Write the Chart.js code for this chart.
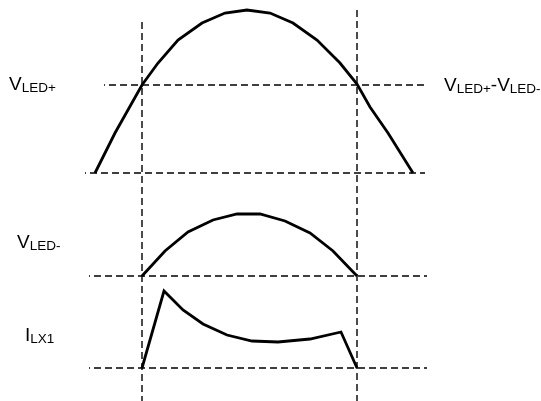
<!DOCTYPE html>
<html>
<head>
<meta charset="utf-8">
<script src="https://cdn.jsdelivr.net/npm/chart.js@4/dist/chart.umd.min.js"></script>
<style>
  html, body { margin: 0; padding: 0; background: #ffffff; }
  #wrap { width: 541px; height: 401px; position: relative; }
</style>
</head>
<body>
<div id="wrap"><canvas id="c" width="541" height="401"></canvas></div>
<script>
// ---- Data (time axis and levels; y is "up") ----
const timeVledPlus = [95, 115, 142, 158, 178, 202, 225, 247, 270, 293, 317, 340, 357, 370, 388, 413];
const vledPlus     = [0, 40, 88, 110, 133, 150, 160, 163, 160, 150, 133, 110, 89, 66, 40, 0];

const timeVledMinus = [142, 165, 188, 213, 237, 260, 285, 310, 333, 357];
const vledMinus     = [0, 25, 44, 56, 62, 62, 55, 43, 25, 0];

const timeIlx1 = [142, 164, 183, 203, 227, 252, 278, 310, 341, 357];
const ilx1     = [0, 77, 58, 44, 33, 27, 26, 29, 36, 0];

// baselines of the three traces and the VLED+ threshold level
const baseVledPlus = 228;
const levelThreshold = 88;   // above baseVledPlus
const baseVledMinus = 125;
const baseIlx1 = 33;

// vertical markers (conduction start / end)
const markerTimes = [142, 357];
const markerTops = [379, 391];

// dashed reference lines: [xStart, xEnd]
const refTopThreshold = [104, 425];
const refTopBase = [85, 425];
const refMidBase = [89, 427];
const refLowBase = [89, 427];

// labels
const labelVledPlus = ['V', 'LED+'];
const labelDiff = ['V', 'LED+', '-', 'V', 'LED-'];
const labelVledMinus = ['V', 'LED-'];
const labelIlx1 = ['I', 'LX1'];

// ---- build datasets ----
function trace(times, vals, base) {
  return times.map((t, i) => ({ x: t, y: base + vals[i] }));
}
function hline(range, y) {
  return [{ x: range[0], y: y }, { x: range[1], y: y }];
}
const solid = { borderColor: '#000', borderWidth: 2.8, pointRadius: 0, showLine: true, tension: 0, borderJoinStyle: 'miter', fill: false };
const dashedH = { borderColor: '#000', borderWidth: 1.4, pointRadius: 0, showLine: true, tension: 0, borderDash: [7, 4], borderDashOffset: 6, fill: false };
const dashedV = { borderColor: '#000', borderWidth: 1.4, pointRadius: 0, showLine: true, tension: 0, borderDash: [7, 4], fill: false };

const datasets = [
  Object.assign({ data: hline(refTopThreshold, baseVledPlus + levelThreshold) }, dashedH),
  Object.assign({ data: hline(refTopBase, baseVledPlus) }, dashedH),
  Object.assign({ data: hline(refMidBase, baseVledMinus) }, dashedH),
  Object.assign({ data: hline(refLowBase, baseIlx1) }, dashedH),
  Object.assign({ data: [{ x: markerTimes[0], y: markerTops[0] }, { x: markerTimes[0], y: 0 }] }, dashedV),
  Object.assign({ data: [{ x: markerTimes[1], y: markerTops[1] }, { x: markerTimes[1], y: 0 }] }, dashedV),
  Object.assign({ data: trace(timeVledPlus, vledPlus, baseVledPlus) }, solid),
  Object.assign({ data: trace(timeVledMinus, vledMinus, baseVledMinus) }, solid),
  Object.assign({ data: trace(timeIlx1, ilx1, baseIlx1) }, solid)
];

// ---- label plugin (main letters + subscripts) ----
const MAIN_FONT = '19px "Liberation Sans", Arial, sans-serif';
const SUB_FONT = '13.5px "Liberation Sans", Arial, sans-serif';
const labelDefs = [
  { parts: labelVledPlus, subs: [false, true], x: 9, y: 90 },
  { parts: labelDiff, subs: [false, true, false, false, true], x: 444, y: 91 },
  { parts: labelVledMinus, subs: [false, true], x: 17, y: 248 },
  { parts: labelIlx1, subs: [false, true], x: 25, y: 341 }
];
const labelPlugin = {
  id: 'labels',
  afterDraw(chart) {
    const ctx = chart.ctx;
    ctx.save();
    ctx.fillStyle = '#000';
    ctx.textBaseline = 'alphabetic';
    ctx.textAlign = 'left';
    labelDefs.forEach(d => {
      let x = d.x;
      d.parts.forEach((p, i) => {
        const sub = d.subs[i];
        ctx.font = sub ? SUB_FONT : MAIN_FONT;
        ctx.fillText(p, x, d.y + (sub ? 2 : 0));
        x += ctx.measureText(p).width;
      });
    });
    ctx.restore();
  }
};

new Chart(document.getElementById('c'), {
  type: 'scatter',
  data: { datasets: datasets },
  options: {
    responsive: false,
    animation: false,
    events: [],
    layout: { padding: 0 },
    clip: false,
    plugins: { legend: { display: false }, tooltip: { enabled: false } },
    scales: {
      x: { type: 'linear', min: 0, max: 541, display: false },
      y: { type: 'linear', min: 0, max: 401, display: false }
    }
  },
  plugins: [labelPlugin]
});
</script>
</body>
</html>
